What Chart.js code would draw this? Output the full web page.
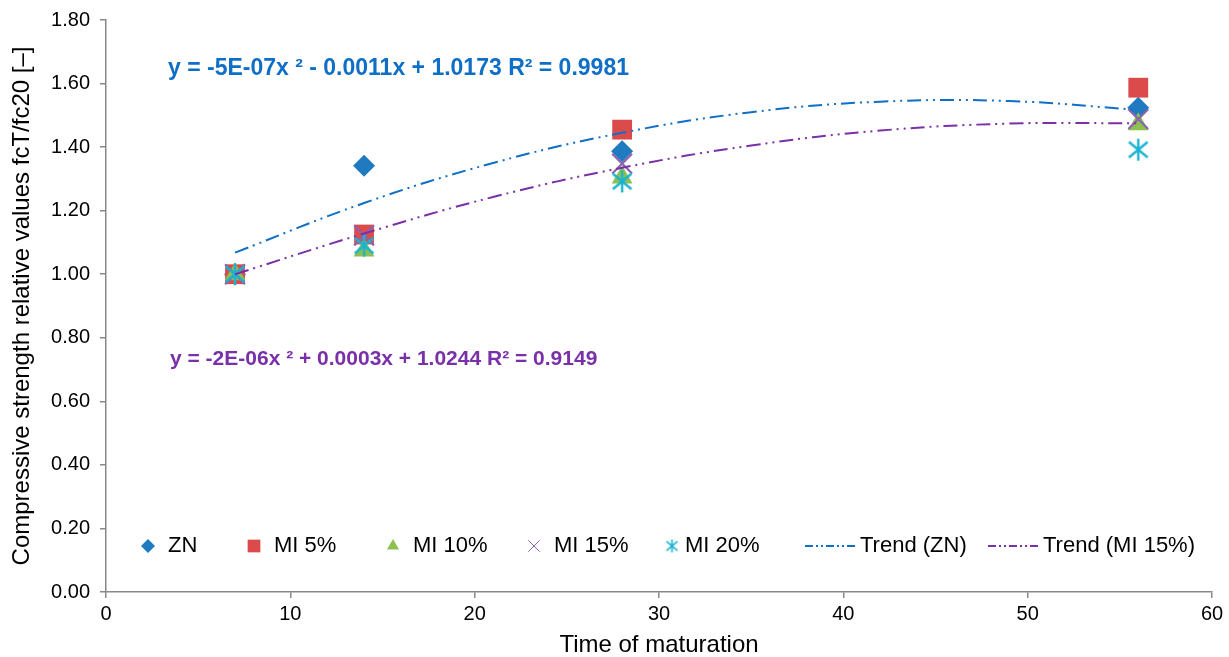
<!DOCTYPE html>
<html>
<head>
<meta charset="utf-8">
<script src="https://cdn.jsdelivr.net/npm/chart.js@4.4.0/dist/chart.umd.min.js"></script>
<style>
    html, body { margin: 0; padding: 0; background: #fff; }
    .myChart-container { position: relative; width: 1229px; height: 657px; }
</style>
</head>
<body>
<div class="myChart-container">
    <canvas id="myChart" width="1229" height="657"></canvas>
</div>
<script>
// measured points (days of maturation / relative strength)
const days = [7, 14, 28, 56];
const zn = [1.00, 1.341, 1.387, 1.524];
const mi5 = [1.00, 1.125, 1.455, 1.587];
const mi10 = [1.00, 1.075, 1.304, 1.472];
const mi15 = [1.00, 1.122, 1.348, 1.488];
const mi20 = [1.00, 1.09, 1.292, 1.392];

// trend curves
const trendDays = [7, 14, 21, 28, 35, 42, 49, 56];
const trendZN = [1.068, 1.224, 1.350, 1.445, 1.510, 1.543, 1.545, 1.517];
const trendMI15 = [1.00, 1.128, 1.243, 1.335, 1.405, 1.452, 1.474, 1.475];

const xTicks = [0, 10, 20, 30, 40, 50, 60];
const yTicks = [0, 0.2, 0.4, 0.6, 0.8, 1.0, 1.2, 1.4, 1.6, 1.8];

const seriesNames = ['ZN', 'MI 5%', 'MI 10%', 'MI 15%', 'MI 20%', 'Trend (ZN)', 'Trend (MI 15%)'];
const eqZN = 'y = -5E-07x \u00B2 - 0.0011x + 1.0173 R\u00B2 = 0.9981';
const eqMI15 = 'y = -2E-06x \u00B2 + 0.0003x + 1.0244 R\u00B2 = 0.9149';

const FONT = '"Liberation Sans", Arial, sans-serif';

const toPts = (xs, ys) => xs.map((x, i) => ({ x: x, y: ys[i] }));

// excel-like asterisk marker (x + vertical bar)
function makeAsterisk(size, color, lw) {
    const c = document.createElement('canvas');
    c.width = size; c.height = size;
    const g = c.getContext('2d');
    g.strokeStyle = color;
    g.lineWidth = lw;
    const m = size / 2, r = size / 2 - 1;
    g.beginPath();
    g.moveTo(m, m - r); g.lineTo(m, m + r);
    g.moveTo(m - r * 0.85, m - r * 0.7); g.lineTo(m + r * 0.85, m + r * 0.7);
    g.moveTo(m + r * 0.85, m - r * 0.7); g.lineTo(m - r * 0.85, m + r * 0.7);
    g.stroke();
    return c;
}

const star = makeAsterisk(24, '#1AB3D1', 2.4);
const starSmall = makeAsterisk(15, '#1AB3D1', 1.6);

const dashStyle = [14, 5, 2, 5, 2, 5];

const datasets = [
    { label: seriesNames[0], data: toPts(days, zn), pointStyle: 'rectRot', pointRadius: 11,
      backgroundColor: '#1F7AC0', borderColor: '#1F7AC0', borderWidth: 0, order: 6 },
    { label: seriesNames[1], data: toPts(days, mi5), pointStyle: 'rect', pointRadius: 14,
      backgroundColor: '#DB4B4B', borderColor: '#DB4B4B', borderWidth: 0, order: 5 },
    { label: seriesNames[2], data: toPts(days, mi10), pointStyle: 'triangle', pointRadius: 12,
      backgroundColor: '#8DC04F', borderColor: '#8DC04F', borderWidth: 0, order: 4 },
    { label: seriesNames[3], data: toPts(days, mi15), pointStyle: 'crossRot', pointRadius: 14,
      backgroundColor: '#8B64AE', borderColor: '#8B64AE', borderWidth: 2.2, order: 3 },
    { label: seriesNames[4], data: toPts(days, mi20), pointStyle: star, pointRadius: 12,
      backgroundColor: '#1AB3D1', borderColor: '#1AB3D1', borderWidth: 0, order: 2 },
    { label: seriesNames[5], data: toPts(trendDays, trendZN), showLine: true, pointRadius: 0,
      borderColor: '#0F6FC6', borderWidth: 2, borderDash: dashStyle, tension: 0.4, order: 1 },
    { label: seriesNames[6], data: toPts(trendDays, trendMI15), showLine: true, pointRadius: 0,
      borderColor: '#7A30A8', borderWidth: 2, borderDash: dashStyle, tension: 0.4, order: 0 }
];

// legend drawn inside the plot, like the excel one
const legendX = [148, 254, 393, 534, 672, 805, 988];
const insideLegend = {
    id: 'insideLegend',
    afterDraw(chart) {
        const ctx = chart.ctx;
        const y = 546;
        ctx.save();
        ctx.font = '22px ' + FONT;
        ctx.textBaseline = 'middle';
        chart.data.datasets.forEach((ds, i) => {
            const x = legendX[i];
            let textX;
            if (ds.showLine) {
                ctx.save();
                ctx.strokeStyle = ds.borderColor;
                ctx.lineWidth = 2;
                ctx.setLineDash([8, 3, 2, 3, 2, 3]);
                ctx.beginPath();
                ctx.moveTo(x, y); ctx.lineTo(x + 50, y);
                ctx.stroke();
                ctx.restore();
                textX = x + 55;
            } else {
                ctx.save();
                ctx.fillStyle = ds.backgroundColor;
                ctx.strokeStyle = ds.borderColor;
                const style = ds.pointStyle === star ? starSmall : ds.pointStyle;
                const r = ds.pointStyle === 'rect' ? 9 : (ds.pointStyle === 'crossRot' ? 8 : 7);
                if (Chart.helpers && Chart.helpers.drawPoint) {
                    Chart.helpers.drawPoint(ctx, { pointStyle: style, radius: r, rotation: 0, borderWidth: ds.pointStyle === 'crossRot' ? 1.5 : 0 }, x, y);
                }
                ctx.restore();
                textX = x + (i === 4 ? 13 : 20);
            }
            ctx.fillStyle = '#000';
            ctx.fillText(ds.label, textX, y);
        });
        // trendline equations
        ctx.font = 'bold 23px ' + FONT;
        ctx.fillStyle = '#0F6FC6';
        ctx.fillText(eqZN, 168, 69);
        ctx.font = 'bold 21px ' + FONT;
        ctx.fillStyle = '#7A30A8';
        ctx.fillText(eqMI15, 170, 359);
        ctx.restore();
    }
};

const ctx = document.getElementById('myChart');
new Chart(ctx, {
    type: 'scatter',
    data: { datasets: datasets },
    options: {
        responsive: false,
        animation: false,
        events: [],
        layout: { padding: { left: 0, right: 17, top: 19, bottom: 0 } },
        plugins: {
            legend: { display: false },
            tooltip: { enabled: false }
        },
        scales: {
            x: {
                type: 'linear', min: 0, max: 60,
                afterBuildTicks: (axis) => { axis.ticks = xTicks.map(v => ({ value: v })); },
                afterFit: (axis) => { axis.height = 65; },
                grid: { drawOnChartArea: false, drawTicks: true, tickLength: 6, color: '#888', lineWidth: 1.5 },
                border: { color: '#888', width: 1.5 },
                ticks: { color: '#000', font: { family: FONT, size: 20 }, padding: 4, maxRotation: 0 },
                title: { display: true, text: 'Time of maturation', color: '#000',
                         font: { family: FONT, size: 24 }, padding: { top: 0, bottom: -3 } }
            },
            y: {
                type: 'linear', min: 0, max: 1.8,
                afterBuildTicks: (axis) => { axis.ticks = yTicks.map(v => ({ value: v })); },
                afterFit: (axis) => { axis.width = 106; },
                grid: { drawOnChartArea: false, drawTicks: true, tickLength: 6, color: '#888', lineWidth: 1.5 },
                border: { color: '#888', width: 1.5 },
                ticks: { color: '#000', font: { family: FONT, size: 20, lineHeight: 1 }, padding: 10,
                         callback: (v) => Number(v).toFixed(2) },
                title: { display: true, text: 'Compressive strength relative values fcT/fc20 [\u2013]', color: '#000',
                         font: { family: FONT, size: 24 }, padding: { top: 8, bottom: 0 } }
            }
        }
    },
    plugins: [insideLegend]
});
</script>
</body>
</html>
